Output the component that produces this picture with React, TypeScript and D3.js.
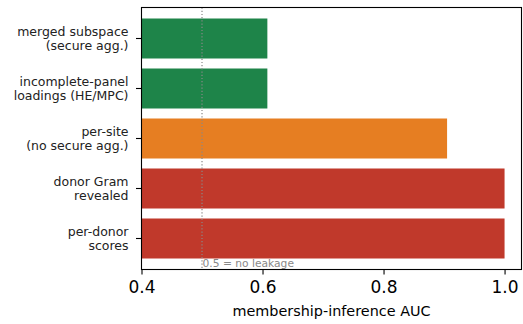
import { useEffect, useRef } from "react";
import * as d3 from "d3";

const categories = [
  ["merged subspace", "(secure agg.)"],
  ["incomplete-panel", "loadings (HE/MPC)"],
  ["per-site", "(no secure agg.)"],
  ["donor Gram", "revealed"],
  ["per-donor", "scores"],
];
const aucValues = [0.608, 0.608, 0.905, 1.0, 1.0];
const barColors = ["#1e8449", "#1e8449", "#e67e22", "#c0392b", "#c0392b"];
const xTicks = [0.4, 0.6, 0.8, 1.0];
const baseline = 0.5;

export default function App() {
  const svgRef = useRef<SVGSVGElement>(null);

  useEffect(() => {
    const svg = d3.select(svgRef.current);
    svg.selectAll("*").remove();

    const width = 523;
    const height = 324;
    const margin = { top: 7.5, right: 1.5, bottom: 54.5, left: 141.5 };
    const font = "DejaVu Sans, sans-serif";

    const x = d3.scaleLinear()
      .domain([0.4, 1.028])
      .range([margin.left, width - margin.right]);

    const ids = categories.map((_, i) => String(i));
    const y = d3.scaleBand()
      .domain(ids)
      .range([margin.top, height - margin.bottom])
      .paddingInner(0.2)
      .paddingOuter(0.22);

    // Bars
    svg.append("g")
      .selectAll("rect")
      .data(aucValues)
      .enter()
      .append("rect")
      .attr("x", x(0.4))
      .attr("y", (_, i) => y(String(i))!)
      .attr("width", d => x(d) - x(0.4))
      .attr("height", y.bandwidth())
      .attr("fill", (_, i) => barColors[i]);

    // Baseline reference
    svg.append("line")
      .attr("x1", x(baseline)).attr("x2", x(baseline))
      .attr("y1", margin.top).attr("y2", height - margin.bottom)
      .attr("stroke", "#888")
      .attr("stroke-width", 1.2)
      .attr("stroke-dasharray", "1.2,2");

    svg.append("defs").append("clipPath").attr("id", "plotclip")
      .append("rect")
      .attr("x", margin.left).attr("y", margin.top)
      .attr("width", width - margin.left - margin.right)
      .attr("height", height - margin.top - margin.bottom);

    svg.append("text")
      .attr("clip-path", "url(#plotclip)")
      .attr("x", x(baseline) + 0.5)
      .attr("y", height - margin.bottom - 2.5)
      .attr("font-family", font)
      .attr("font-size", 10.7)
      .attr("fill", "#888")
      .text("0.5 = no leakage");

    // Frame
    svg.append("rect")
      .attr("x", margin.left).attr("y", margin.top)
      .attr("width", width - margin.left - margin.right)
      .attr("height", height - margin.top - margin.bottom)
      .attr("fill", "none")
      .attr("stroke", "#000")
      .attr("stroke-width", 1.1);

    // X axis
    const xAxis = svg.append("g")
      .attr("transform", `translate(0,${height - margin.bottom})`)
      .call(d3.axisBottom(x).tickValues(xTicks).tickFormat(d3.format(".1f")).tickSize(5).tickPadding(6));
    xAxis.select(".domain").remove();
    xAxis.selectAll("line").attr("stroke-width", 1.1);
    xAxis.selectAll("text")
      .attr("font-family", font)
      .attr("font-size", 17)
      .attr("fill", "#000");

    svg.append("text")
      .attr("x", (margin.left + width - margin.right) / 2)
      .attr("y", 316)
      .attr("text-anchor", "middle")
      .attr("font-family", font)
      .attr("font-size", 14.4)
      .text("membership-inference AUC");

    // Y axis
    const yAxis = svg.append("g")
      .attr("transform", `translate(${margin.left},0)`)
      .call(d3.axisLeft(y).tickSize(5.5).tickFormat(() => ""));
    yAxis.select(".domain").remove();
    yAxis.selectAll("line").attr("stroke-width", 1.1);

    const labels = svg.append("g")
      .selectAll("text")
      .data(categories)
      .enter()
      .append("text")
      .attr("text-anchor", "end")
      .attr("font-family", font)
      .attr("font-size", 12.5)
      .attr("fill", "#222");
    labels.each(function (lines, i) {
      const cy = y(String(i))! + y.bandwidth() / 2;
      d3.select(this).selectAll("tspan")
        .data(lines)
        .enter()
        .append("tspan")
        .attr("x", 128.5)
        .attr("y", (_, j) => cy + (j - 0.5) * 14.5 + 4.5)
        .text(d => d);
    });
  }, []);

  return <svg ref={svgRef} width={523} height={324} style={{ position: "absolute", left: 0, top: 0 }} />;
}
